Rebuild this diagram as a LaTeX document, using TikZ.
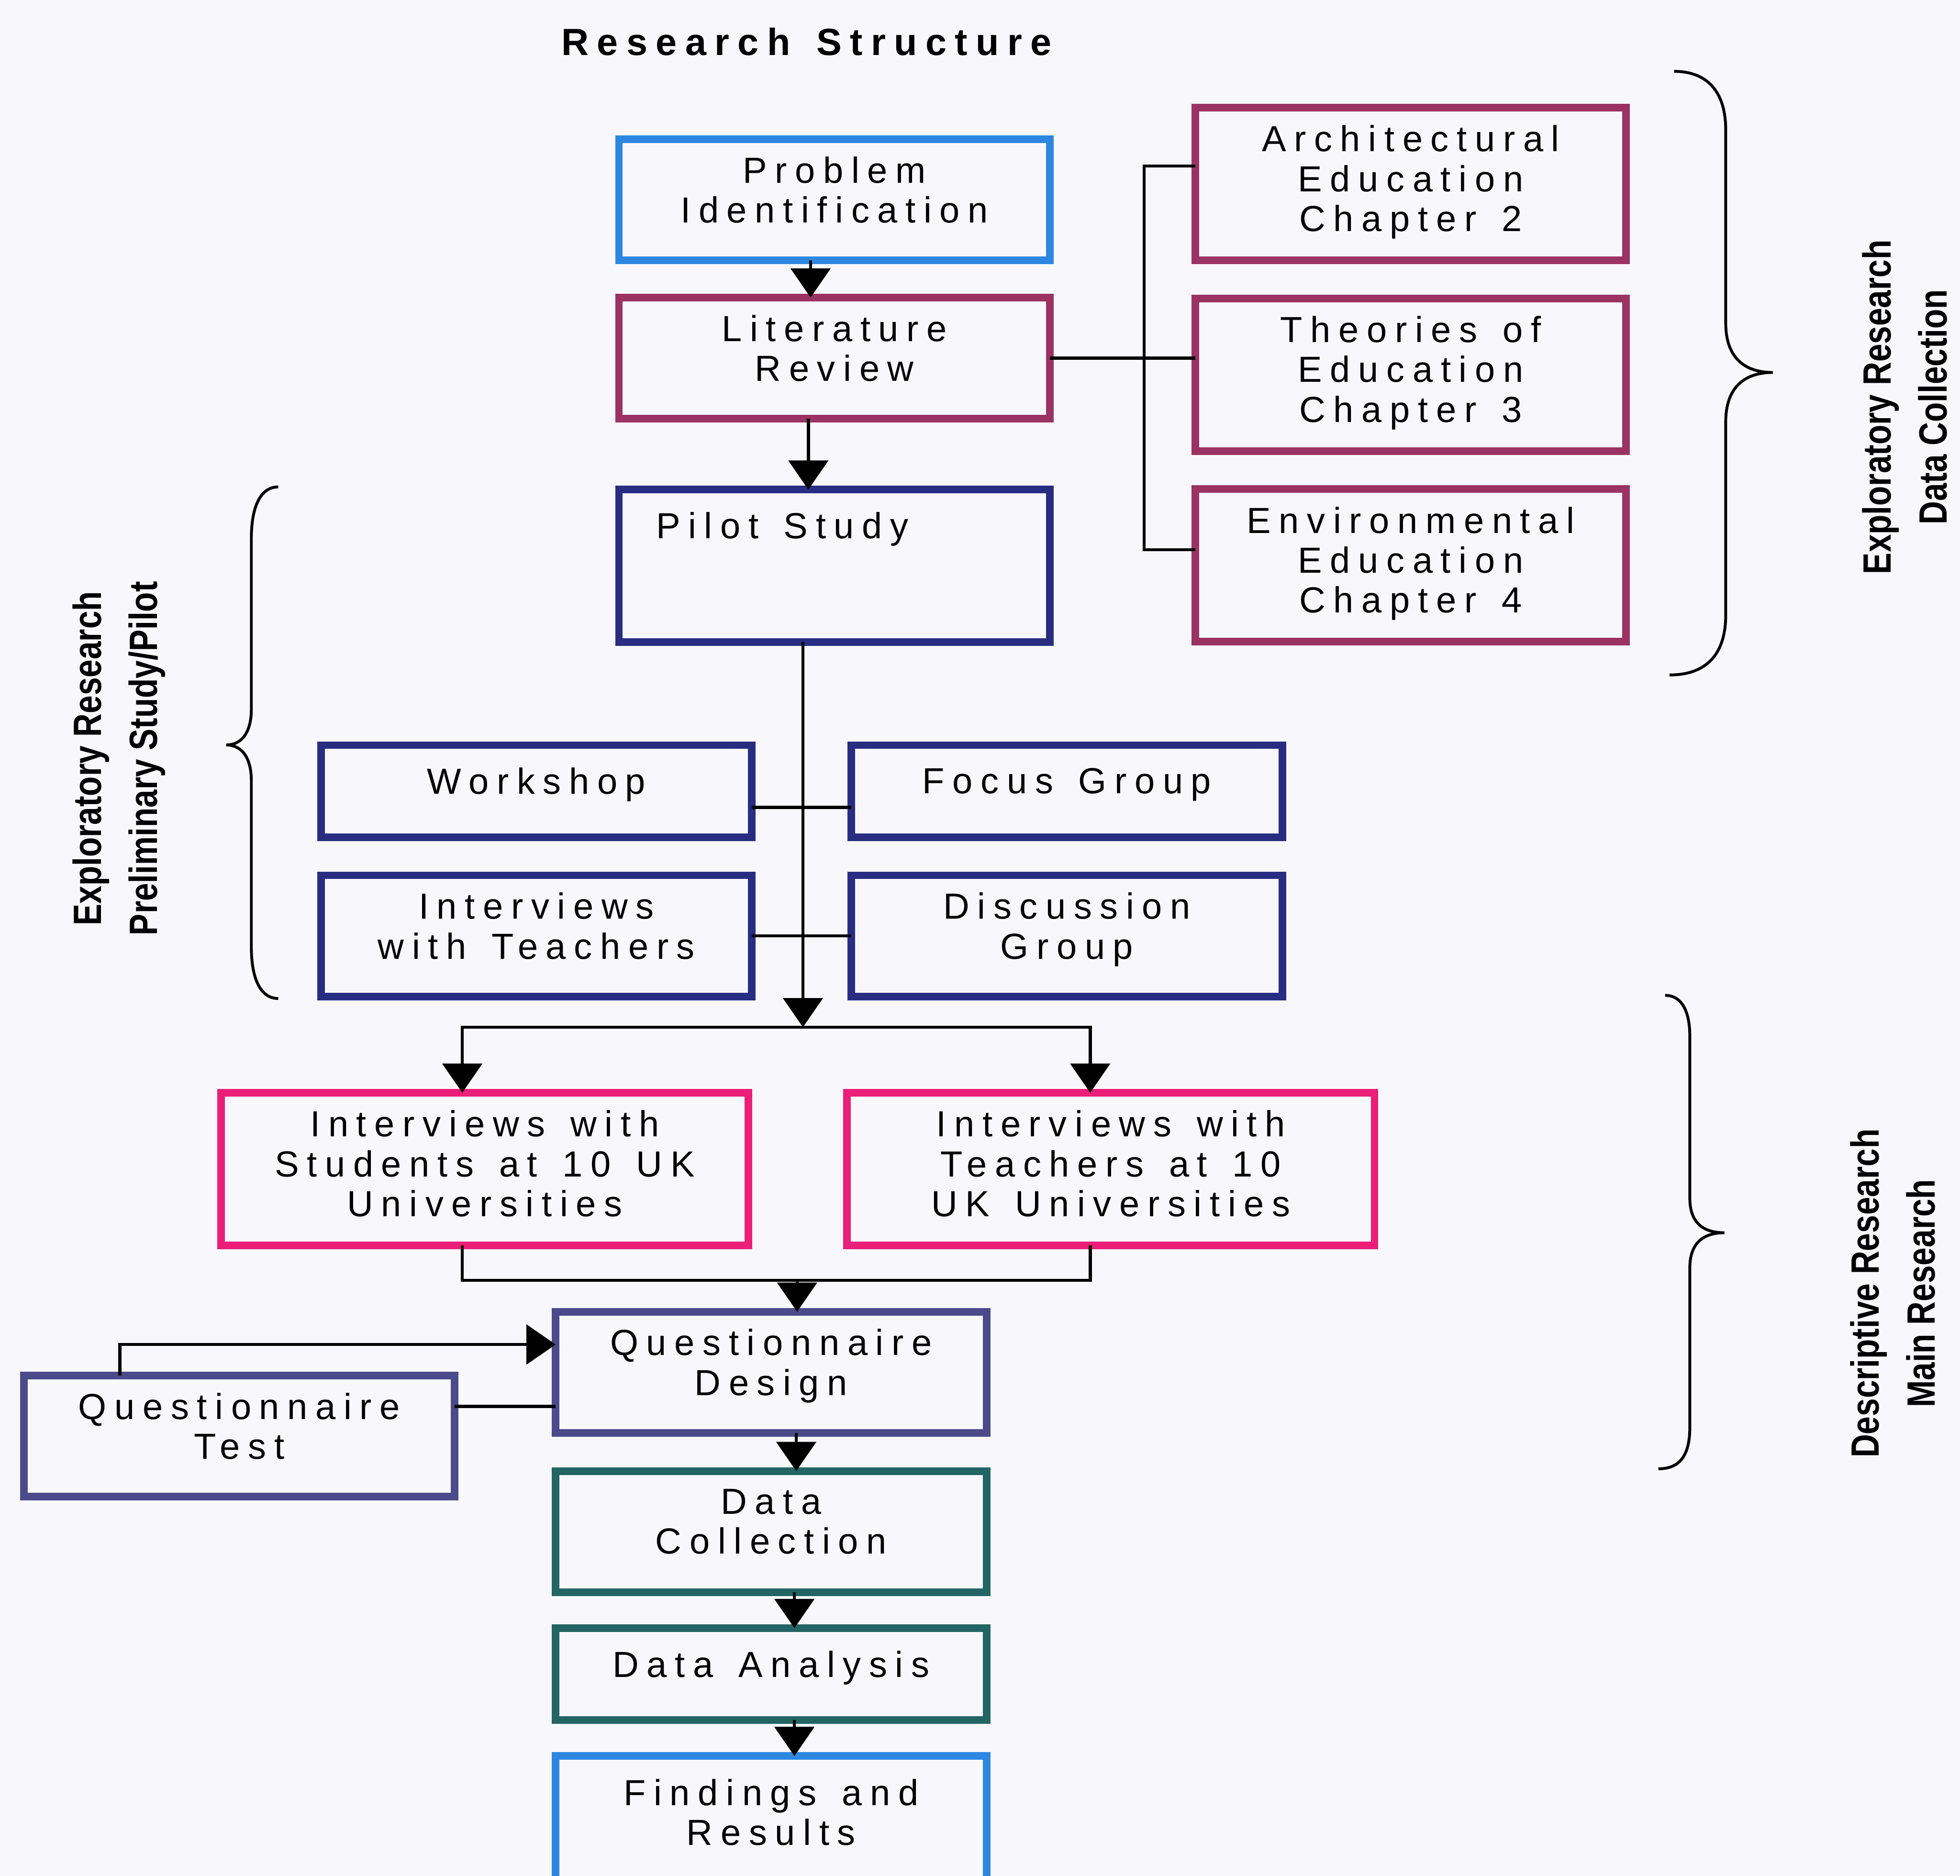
\documentclass[tikz,border=0pt]{standalone}
\usepackage{fontspec}
\setmainfont{Liberation Sans}
\newfontfamily\boxfont{Liberation Sans}[LetterSpace=22, WordSpace=1.4]
\newfontfamily\narrowfont{Liberation Sans}[FakeStretch=0.82]
\usetikzlibrary{positioning,arrows.meta}

\definecolor{paper}{RGB}{248,248,252}
\definecolor{probBlue}{RGB}{45,135,225}
\definecolor{litPlum}{RGB}{155,50,100}
\definecolor{pilotNavy}{RGB}{40,45,130}
\definecolor{uniPink}{RGB}{235,30,120}
\definecolor{quesSlate}{RGB}{75,75,140}
\definecolor{dataTeal}{RGB}{35,100,100}

\begin{document}
\begin{tikzpicture}[
        box/.style={rectangle, line width=4.8pt, minimum width=9.6cm, minimum height=2.7cm, inner sep=0pt, outer sep=0pt, align=center, text depth=0.45cm, font=\boxfont\fontsize{23}{25.3}\selectfont},
        tall/.style={minimum height=3.4cm, text depth=0.25cm},
        short/.style={minimum height=2.05cm},
        wide/.style={minimum width=11.75cm},
        sidelabel/.style={rotate=90, align=center, font=\narrowfont\bfseries\fontsize{25}{35.5}\selectfont},
        link/.style={line width=2pt},
        flow/.style={line width=2pt, -{Triangle[width=8.8mm,length=6.5mm]}},
        curly/.style={line width=1.8pt},
    ]
    \useasboundingbox (0,0) rectangle (43.67,-41.80);
    \fill[paper] (0,0) rectangle (43.67,-41.80);

    \node[font=\boxfont\bfseries\fontsize{24}{28}\selectfont] (title) at (17.97,-0.93) {Research Structure};

    \node[box, draw=probBlue] (prob) at (18.59,-4.45) {Problem\\Identification};
    \node[box, draw=litPlum] (lit) [below=0.83cm of prob] {Literature\\Review};
    \node[box, tall, draw=pilotNavy, text depth=1.8cm] (pilot) [below=1.58cm of lit] {\hspace*{-2.32cm}Pilot Study};

    \node[box, tall, draw=litPlum] (theo) at (31.43,-8.35) {Theories of\\Education\\Chapter 3};
    \node[box, tall, draw=litPlum] (arch) [above=0.85cm of theo] {Architectural\\Education\\Chapter 2};
    \node[box, tall, draw=litPlum] (env) [below=0.85cm of theo] {Environmental\\Education\\Chapter 4};

    \node[box, short, draw=pilotNavy] (wshop) at (11.95,-17.63) {Workshop};
    \node[box, short, draw=pilotNavy] (focus) [right=2.22cm of wshop] {Focus Group};
    \node[box, draw=pilotNavy] (intv) [below=0.85cm of wshop] {Interviews\\with Teachers};
    \node[box, draw=pilotNavy] (disc) [right=2.22cm of intv] {Discussion\\Group};

    \node[box, tall, wide, draw=uniPink] (stud) at (10.80,-26.05) {Interviews with\\Students at 10 UK\\Universities};
    \node[box, tall, wide, draw=uniPink] (teach) [right=2.2cm of stud] {Interviews with\\Teachers at 10\\UK Universities};

    \node[box, draw=quesSlate] (qdes) at (17.18,-30.58) {Questionnaire\\Design};
    \node[box, draw=quesSlate] (qtest) at (5.33,-32.00) {Questionnaire\\Test};
    \node[box, draw=dataTeal] (dcoll) [below=0.85cm of qdes] {Data\\Collection};
    \node[box, short, draw=dataTeal] (danal) [below=0.8cm of dcoll] {Data Analysis};
    \node[box, draw=probBlue, minimum height=2.9cm, text depth=0.4cm] (find) [below=0.8cm of danal] {Findings and\\Results};

    \node[sidelabel] (explData) at (42.44,-9.07) {Exploratory Research\\Data Collection};
    \node[sidelabel] (explPilot) at (2.65,-16.90) {Exploratory Research\\Preliminary Study/Pilot};
    \node[sidelabel] (descMain) at (42.17,-28.82) {Descriptive Research\\Main Research};

    \coordinate (split) at (17.89,-22.89);
    \coordinate (merge) at (17.76,-28.53);

    % top column
    \draw[flow] ([xshift=-5.3mm]prob.south) -- ([xshift=-5.3mm]lit.north);
    \draw[flow] ([xshift=-5.8mm]lit.south) -- ([xshift=-5.8mm]pilot.north);
    \draw[link] (lit.east) -- (lit.east -| theo.west);
    \draw[link] ([yshift=4mm]arch.west) -- ++(-1.14,0) |- ([yshift=3.5mm]env.west);

    % pilot study
    \draw[flow] (split |- pilot.south) -- (split);
    \draw[link] ([yshift=-3.6mm]wshop.east) -- ([yshift=-3.6mm]wshop.east -| focus.west);
    \draw[link] (intv.east) -- (disc.west);
    \draw[flow] (split) -| ([xshift=-5mm]stud.north);
    \draw[flow] (split) -| ([xshift=-4.6mm]teach.north);

    % main research
    \draw[link] ([xshift=-5mm]stud.south) |- (merge) -| ([xshift=-4.6mm]teach.south);
    \draw[flow] (merge) -- (merge |- qdes.north);
    \draw[flow] ([xshift=-2.66cm]qtest.north) |- ([yshift=6.2mm]qdes.west);
    \draw[link] ([yshift=6.6mm]qtest.east) -- ([yshift=6.6mm]qtest.east -| qdes.west);
    \draw[flow] ([xshift=5.6mm]qdes.south) -- ([xshift=5.6mm]dcoll.north);
    \draw[flow] ([xshift=5.2mm]dcoll.south) -- ([xshift=5.2mm]danal.north);
    \draw[flow] ([xshift=5.2mm]danal.south) -- ([xshift=5.2mm]find.north);

    % braces
    \draw[curly] (37.3,-1.59) .. controls (38.0,-1.59) and (38.45,-2.0) .. (38.45,-2.9) -- (38.45,-7.2)
        .. controls (38.45,-7.9) and (38.8,-8.3) .. (39.5,-8.3)
        .. controls (38.8,-8.3) and (38.45,-8.7) .. (38.45,-9.4) -- (38.45,-13.7)
        .. controls (38.45,-14.6) and (38.0,-15.04) .. (37.2,-15.04);
    \draw[curly] (6.2,-10.85) .. controls (5.8,-10.85) and (5.6,-11.3) .. (5.6,-12.0) -- (5.6,-15.8)
        .. controls (5.6,-16.3) and (5.4,-16.6) .. (5.04,-16.6)
        .. controls (5.4,-16.6) and (5.6,-16.9) .. (5.6,-17.4) -- (5.6,-21.1)
        .. controls (5.6,-21.8) and (5.8,-22.25) .. (6.2,-22.25);
    \draw[curly] (37.1,-22.18) .. controls (37.45,-22.18) and (37.65,-22.5) .. (37.65,-23.1) -- (37.65,-26.7)
        .. controls (37.65,-27.2) and (37.9,-27.47) .. (38.42,-27.47)
        .. controls (37.9,-27.47) and (37.65,-27.75) .. (37.65,-28.25) -- (37.65,-31.8)
        .. controls (37.65,-32.4) and (37.45,-32.73) .. (36.95,-32.73);
\end{tikzpicture}
\end{document}
